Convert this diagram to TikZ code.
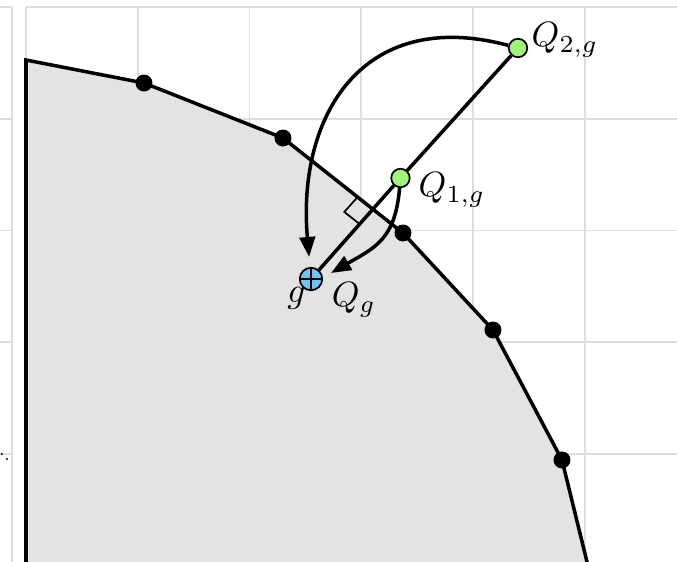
\documentclass[tikz,border=0pt]{standalone}
\usetikzlibrary{arrows.meta,calc}
\definecolor{gridgray}{HTML}{DDDDDD}
\definecolor{regiongray}{HTML}{E3E3E3}
\definecolor{ptgreen}{HTML}{A3F27A}
\definecolor{ptblue}{HTML}{72C3F2}
\begin{document}
\begin{tikzpicture}[
  gline/.style={gridgray, line width=0.55pt},
  vtx/.style={circle, fill=black, inner sep=0pt, minimum size=1.7mm},
  qpt/.style={circle, draw, line width=0.5pt, fill=ptgreen, inner sep=0pt, minimum size=1.85mm},
  gpt/.style={circle, draw, line width=0.5pt, fill=ptblue, inner sep=0pt, minimum size=2.25mm},
  curv/.style={line width=1pt, -{Triangle[length=2mm, width=1.55mm]}}]
  \useasboundingbox (0,0) rectangle (6.77,5.62);
  \clip (0,0) rectangle (6.77,5.62);
  % grid
  \foreach \i in {0,...,5}
    \draw[gline] ({0.26+1.1175*\i},0) -- ({0.26+1.1175*\i},5.55);
  \foreach \j in {0,...,4} {
    \draw[gline] (0.26,{5.55-1.1175*\j}) -- (6.8,{5.55-1.1175*\j});
    \draw[gline] (-0.1,{5.55-1.1175*\j}) -- (0.12,{5.55-1.1175*\j});
  }
  \draw[gline] (0.12,0) -- (0.12,5.55);
  \fill (0.017,1.08) circle (0.3pt) (0.07,1.03) circle (0.3pt);
  % region
  \coordinate (p1) at (0.26,5.02);
  \coordinate (p2) at (1.44,4.79);
  \coordinate (p3) at (2.83,4.24);
  \coordinate (p4) at (4.03,3.29);
  \coordinate (p5) at (4.93,2.32);
  \coordinate (p6) at (5.62,1.02);
  \coordinate (p7) at (5.895,-0.1);
  \fill[regiongray] (0.26,-0.1) -- (p1) -- (p2) -- (p3) -- (p4) -- (p5) -- (p6) -- (p7) -- cycle;
  \draw[line width=1pt] (0.26,-0.1) -- (p1) -- (p2) -- (p3) -- (p4) -- (p5) -- (p6) -- (p7);
  \foreach \k in {2,...,6}
    \node[vtx] (d\k) at (p\k) {};
  % projection
  \node[qpt] (Q2) at (5.18,5.14) {};
  \node[qpt] (Q1) at (4.005,3.84) {};
  \node[gpt] (g) at (3.11,2.83) {};
  \draw[line width=0.5pt] (g.north) -- (g.south) (g.west) -- (g.east);
  \draw[line width=1pt] (Q2) -- (Q1);
  \draw[line width=1pt] (Q1) -- (g);
  \coordinate (F) at (intersection of Q2.center--g.center and p3--p4);
  \coordinate (ra1) at ($(F)!2mm!(p3)$);
  \coordinate (ra2) at ($(F)!2mm!(g.center)$);
  \draw[line width=0.5pt] (ra1) -- ($(ra1)+(ra2)-(F)$) -- (ra2);
  \coordinate (Qg) at (3.31,2.89);
  \node (lQ2) at (5.65,5.22) {$Q_{2,g}$};
  \node (lQ1) at (4.52,3.72) {$Q_{1,g}$};
  \node (lg) at (2.965,2.64) {$g$};
  \node (lQg) at (3.54,2.62) {$Q_g$};
  \draw[curv, shorten >=1mm] (Q2) to[out=165, in=95, looseness=1.3] (g);
  \draw[curv] (Q1) to[out=-95, in=30, looseness=1.2] (Qg);
\end{tikzpicture}
\end{document}
